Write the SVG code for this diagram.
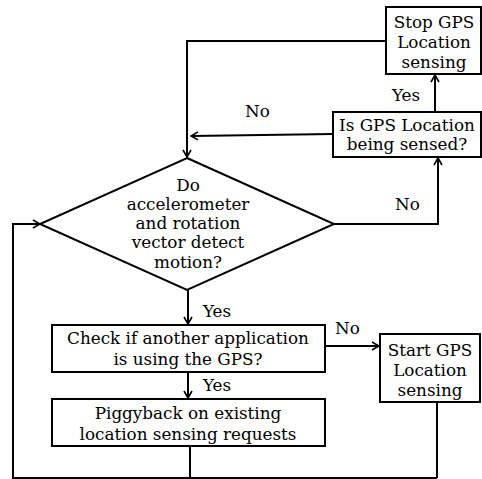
<svg xmlns="http://www.w3.org/2000/svg" width="482" height="479" viewBox="0 0 482 479">
  <style>
    .box { fill: #fff; stroke: #000; stroke-width: 2; }
    .wire { fill: none; stroke: #000; stroke-width: 2; }
    text { font-family: "DejaVu Serif", "Liberation Serif", serif; font-size: 16.8px; fill: #000; text-anchor: middle; }
    .lbl { text-anchor: start; }
  </style>
  <defs>
    <marker id="arrow" viewBox="0 0 10 10" refX="9" refY="5" markerWidth="10" markerHeight="10" markerUnits="userSpaceOnUse" orient="auto">
      <polyline points="2,1 9,5 2,9" fill="none" stroke="#000" stroke-width="1.6"/>
    </marker>
  </defs>

  <rect width="482" height="479" fill="#fff"/>

  <!-- connectors -->
  <g id="connectors">
    <polyline class="wire" points="386,41 187,41 187,157" marker-end="url(#arrow)"/>
    <line class="wire" x1="435" y1="112" x2="435" y2="75" marker-end="url(#arrow)"/>
    <line class="wire" x1="333" y1="134" x2="191" y2="136" marker-end="url(#arrow)"/>
    <polyline class="wire" points="334,224 438,224 438,158" marker-end="url(#arrow)"/>
    <line class="wire" x1="188" y1="290" x2="188" y2="324" marker-end="url(#arrow)"/>
    <line class="wire" x1="188" y1="372" x2="188" y2="398" marker-end="url(#arrow)"/>
    <line class="wire" x1="325" y1="346" x2="379" y2="346" marker-end="url(#arrow)"/>
    <line class="wire" x1="190" y1="446" x2="190" y2="478"/>
    <line class="wire" x1="437" y1="402" x2="437" y2="478"/>
    <polyline class="wire" points="437,478 13,478 13,224 40,224" marker-end="url(#arrow)"/>
  </g>

  <g id="stop-gps">
    <rect class="box" x="386" y="7" width="95" height="67"/>
    <text x="434" y="28">Stop GPS</text>
    <text x="434" y="48">Location</text>
    <text x="434" y="68">sensing</text>
  </g>

  <g id="is-gps-sensed">
    <rect class="box" x="333" y="112" width="148" height="45"/>
    <text x="407" y="131">Is GPS Location</text>
    <text x="407" y="150">being sensed?</text>
  </g>

  <g id="motion-check">
    <polygon class="box" points="187,158 334,224 187,290 40,224"/>
    <text x="188" y="191">Do</text>
    <text x="188" y="210">accelerometer</text>
    <text x="188" y="229">and rotation</text>
    <text x="188" y="248">vector detect</text>
    <text x="188" y="268">motion?</text>
  </g>

  <g id="app-check">
    <rect class="box" x="52" y="325" width="273" height="47"/>
    <text x="188" y="344">Check if another application</text>
    <text x="188" y="365">is using the GPS?</text>
  </g>

  <g id="piggyback">
    <rect class="box" x="52" y="399" width="273" height="47"/>
    <text x="188" y="419">Piggyback on existing</text>
    <text x="188" y="440">location sensing requests</text>
  </g>

  <g id="start-gps">
    <rect class="box" x="380" y="334" width="100" height="68"/>
    <text x="430" y="356">Start  GPS</text>
    <text x="430" y="376">Location</text>
    <text x="430" y="396">sensing</text>
  </g>

  <g id="labels">
    <text class="lbl" x="392" y="101">Yes</text>
    <text class="lbl" x="245" y="117">No</text>
    <text class="lbl" x="395" y="210">No</text>
    <text class="lbl" x="203" y="317">Yes</text>
    <text class="lbl" x="203" y="391">Yes</text>
    <text class="lbl" x="335" y="334">No</text>
  </g>
</svg>
